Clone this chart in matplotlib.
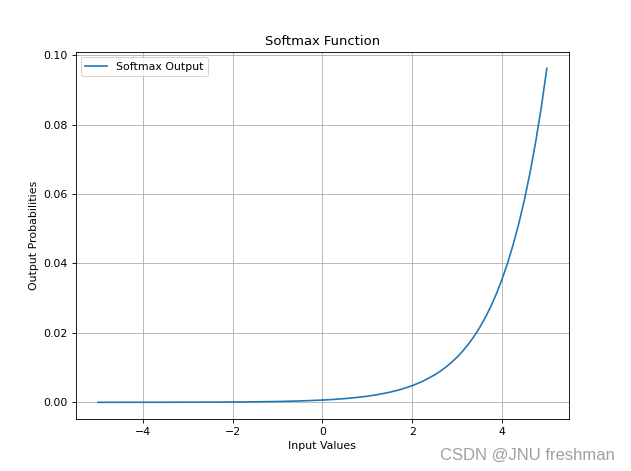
import matplotlib
matplotlib.use("Agg")
import matplotlib.pyplot as plt

# Values
x_values = [-5.0, -4.0, -3.0, -2.0, -1.5, -1.0, -0.5, 0.0, 0.25, 0.5, 0.75, 1.0,
            1.25, 1.5, 1.75, 2.0, 2.25, 2.5, 2.625, 2.75, 2.875, 3.0, 3.125,
            3.25, 3.375, 3.5, 3.625, 3.75, 3.875, 4.0, 4.125, 4.25, 4.375,
            4.5, 4.625, 4.75, 4.875, 5.0]
y_values = [0.0000044, 0.0000119, 0.0000323, 0.0000877, 0.000145, 0.000238,
            0.000393, 0.000648, 0.000832, 0.001069, 0.001372, 0.001762,
            0.002263, 0.002905, 0.003730, 0.004790, 0.006150, 0.007896,
            0.008948, 0.01014, 0.011489, 0.01302, 0.014752, 0.01672,
            0.018943, 0.02146, 0.024323, 0.02756, 0.031231, 0.03539,
            0.040102, 0.04544, 0.051492, 0.05835, 0.066117, 0.07492,
            0.084896, 0.0962]

s = 0.789
plt.rcParams.update({
    "font.size": 10 * s,
    "lines.linewidth": 1.5 * s,
    "axes.linewidth": 0.8 * s,
    "grid.linewidth": 0.8 * s,
    "xtick.major.size": 3.5 * s,
    "ytick.major.size": 3.5 * s,
    "xtick.major.width": 0.8 * s,
    "ytick.major.width": 0.8 * s,
    "xtick.major.pad": 3.5 * s,
    "ytick.major.pad": 3.5 * s,
    "axes.titlepad": 6.0 * s,
    "axes.labelpad": 4.0 * s,
    "patch.linewidth": 1.0 * s,
})

fig = plt.figure(figsize=(6.31, 4.71), dpi=100)
ax = fig.add_axes([0.1197, 0.1104, 0.7825, 0.7798])
ax.plot(x_values, y_values, label="Softmax Output")
ax.set_title("Softmax Function", fontsize=12 * s)
ax.set_xlabel("Input Values")
ax.set_ylabel("Output Probabilities")
ax.grid(True)
ax.legend(loc="upper left")

fig.text(0.975, 0.034, "CSDN @JNU freshman", ha="right", va="center",
         fontsize=12, color="#a0a0a0", family="Liberation Sans")

fig.savefig("out.png", dpi=100)
